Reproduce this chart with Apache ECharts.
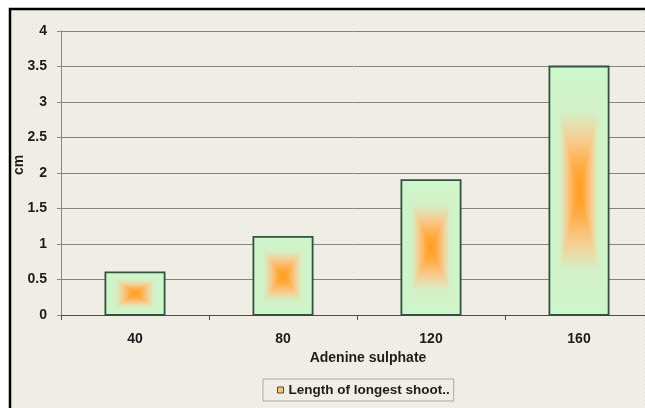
<!DOCTYPE html>
<html>
<head>
<meta charset="utf-8">
<script src="https://cdn.jsdelivr.net/npm/echarts@6/dist/echarts.min.js"></script>
<style>
  html, body { margin: 0; padding: 0; background: #ffffff; }
  #chart { width: 645px; height: 408px; }
</style>
</head>
<body>
<div id="chart"></div>
<script>
// Adenine sulphate concentration vs. length of longest shoot
const categories = ['40', '80', '120', '160'];
const shootLength = [0.6, 1.1, 1.9, 3.5];
const seriesName = 'Length of longest shoot..';
const xAxisTitle = 'Adenine sulphate';
const yAxisTitle = 'cm';

// "from centre" fill: s = 0 at the middle of a bar, s = 1 at its edge
const fillStops = [
  [0.00, [255, 155, 28]],
  [0.20, [255, 172, 68]],
  [0.42, [247, 204, 145]],
  [0.64, [212, 240, 198]],
  [1.00, [204, 247, 204]]
];
function fillAt(s) {
  for (let i = 1; i < fillStops.length; i++) {
    const a = fillStops[i - 1], b = fillStops[i];
    if (s <= b[0]) {
      const t = (s - a[0]) / (b[0] - a[0]);
      const c = a[1].map((v, k) => Math.round(v + (b[1][k] - v) * t));
      return 'rgb(' + c.join(',') + ')';
    }
  }
  return 'rgb(' + fillStops[fillStops.length - 1][1].join(',') + ')';
}

// light dotted paper texture for the chart frame
const tex = document.createElement('canvas');
tex.width = 4; tex.height = 4;
const tctx = tex.getContext('2d');
tctx.fillStyle = '#f1f0e8';
tctx.fillRect(0, 0, 4, 4);
tctx.fillStyle = '#e2e0d6';
tctx.fillRect(0, 0, 1, 1);
tctx.fillRect(2, 2, 1, 1);

function renderBar(params, api) {
  const top = api.coord([api.value(0), api.value(1)]);
  const base = api.coord([api.value(0), 0]);
  const w = api.size([1, 0])[0] * 0.4;
  const h = base[1] - top[1];
  const cx = top[0];
  const cy = top[1] + h / 2;
  const children = [];
  const steps = 60;
  for (let i = 0; i < steps; i++) {
    const s = 1 - i / steps;
    children.push({
      type: 'rect',
      shape: { x: cx - w * s / 2, y: cy - h * s / 2, width: w * s, height: h * s },
      style: { fill: fillAt(s) },
      silent: true
    });
  }
  children.push({
    type: 'rect',
    shape: { x: cx - w / 2, y: top[1], width: w, height: h },
    style: { fill: 'none', stroke: '#34503f', lineWidth: 1.8 }
  });
  return { type: 'group', children: children };
}

const chart = echarts.init(document.getElementById('chart'), null, { renderer: 'canvas' });
const fontFamily = 'Liberation Sans, Arial, sans-serif';
const labelFont = { fontFamily: fontFamily, fontWeight: 'bold', fontSize: 14, color: '#1c1c1c' };

chart.setOption({
  animation: false,
  backgroundColor: '#ffffff',
  graphic: [{
    type: 'rect',
    z: -10,
    shape: { x: 10, y: 9, width: 700, height: 460 },
    style: { fill: { image: tex, repeat: 'repeat' }, stroke: '#000000', lineWidth: 2.5 },
    silent: true
  }],
  // the plot area runs on past the right edge of the frame
  grid: { left: 61, top: 31, right: -8, bottom: 93, outerBoundsMode: 'none', containLabel: false },
  legend: {
    left: 263,
    top: 379,
    padding: [4, 4, 4, 14],
    borderColor: '#a8a8a8',
    borderWidth: 1,
    itemWidth: 6,
    itemHeight: 6,
    textStyle: { fontFamily: fontFamily, fontWeight: 'bold', fontSize: 13.5, color: '#1c1c1c' },
    data: [{
      name: seriesName,
      icon: 'rect',
      itemStyle: { color: '#f3c286', borderColor: '#5a4830', borderWidth: 1 }
    }]
  },
  xAxis: {
    type: 'category',
    data: categories,
    name: xAxisTitle,
    nameLocation: 'middle',
    nameGap: 36,
    nameMoveOverlap: false,
    nameTextStyle: Object.assign({}, labelFont, { padding: [0, 0, 0, 22] }),
    axisLine: { show: true, lineStyle: { color: '#4e4e4e', width: 1 } },
    axisTick: { show: true, length: 5, lineStyle: { color: '#4e4e4e' } },
    axisLabel: Object.assign({ margin: 17 }, labelFont),
    splitLine: { show: false }
  },
  yAxis: {
    type: 'value',
    min: 0,
    max: 4,
    interval: 0.5,
    name: yAxisTitle,
    nameLocation: 'middle',
    nameGap: 35,
    nameMoveOverlap: false,
    nameTextStyle: Object.assign({}, labelFont, { padding: [0, 0, 0, 16] }),
    axisLine: { show: true, lineStyle: { color: '#8a8a8a', width: 1 } },
    axisTick: { show: true, length: 4, lineStyle: { color: '#8a8a8a' } },
    axisLabel: Object.assign({ margin: 14 }, labelFont),
    splitLine: { show: true, lineStyle: { color: '#838383', width: 1 } }
  },
  series: [{
    type: 'custom',
    name: seriesName,
    renderItem: renderBar,
    itemStyle: { color: '#f3c286' },
    encode: { x: 0, y: 1 },
    data: categories.map((c, i) => [i, shootLength[i]])
  }]
});
</script>
</body>
</html>
